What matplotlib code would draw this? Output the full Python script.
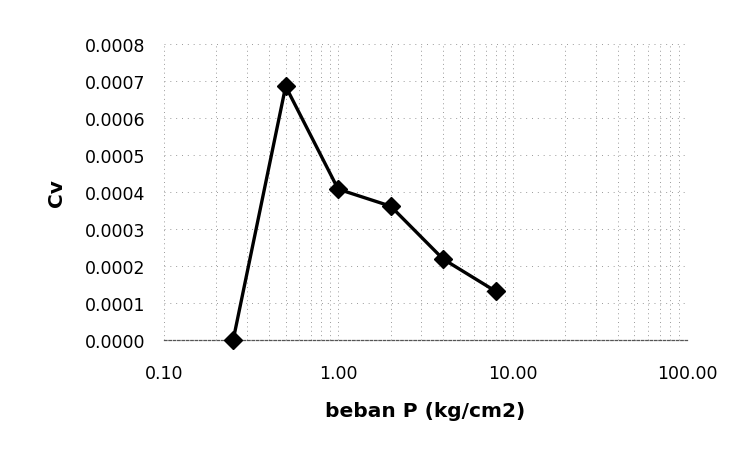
import matplotlib

matplotlib.use("Agg")
import matplotlib.pyplot as plt
from matplotlib.ticker import FixedLocator, FixedFormatter, LogLocator, NullFormatter

# consolidation test: load step vs coefficient of consolidation
beban = [0.25, 0.5, 1.0, 2.0, 4.0, 8.0]
cv = [0.0, 0.000686, 0.000408, 0.000362, 0.000219, 0.000132]

x_ticks = [0.1, 1.0, 10.0, 100.0]
x_ticklabels = ["0.10", "1.00", "10.00", "100.00"]
y_ticks = [0.0, 0.0001, 0.0002, 0.0003, 0.0004, 0.0005, 0.0006, 0.0007, 0.0008]
y_ticklabels = ["0.0000", "0.0001", "0.0002", "0.0003", "0.0004",
                "0.0005", "0.0006", "0.0007", "0.0008"]

plt.rcParams["font.family"] = ["DejaVu Sans"]

fig = plt.figure(figsize=(7.41, 4.56), dpi=100)
ax = fig.add_axes([0.221, 0.252, 0.706, 0.649])

ax.set_xscale("log")
ax.set_xlim(0.1, 100)
ax.set_ylim(0, 0.0008)

# dotted grid on major and minor log positions
ax.xaxis.set_minor_locator(LogLocator(base=10, subs=range(2, 10)))
ax.xaxis.set_minor_formatter(NullFormatter())
ax.grid(which="both", axis="x", color="#9a9a9a", linestyle=(0, (1, 3.5)), linewidth=0.7)
ax.grid(which="major", axis="y", color="#9a9a9a", linestyle=(0, (1, 5)), linewidth=0.7)

ax.plot(beban, cv, color="black", linewidth=2.4, marker="D", markersize=9,
        markerfacecolor="black", markeredgecolor="black", zorder=3, clip_on=False)

ax.xaxis.set_major_locator(FixedLocator(x_ticks))
ax.xaxis.set_major_formatter(FixedFormatter(x_ticklabels))
ax.yaxis.set_major_locator(FixedLocator(y_ticks))
ax.yaxis.set_major_formatter(FixedFormatter(y_ticklabels))
ax.tick_params(which="both", length=0)
ax.tick_params(axis="x", labelsize=12.5, pad=17)
ax.tick_params(axis="y", labelsize=12.5, pad=13)

for side in ("top", "right", "left"):
    ax.spines[side].set_visible(False)
ax.spines["bottom"].set_color("#555555")
ax.spines["bottom"].set_linestyle((0, (2, 1.5)))
ax.spines["bottom"].set_linewidth(0.9)

ax.set_xlabel("beban P (kg/cm2)", fontsize=14.5, fontweight="bold", labelpad=14)
ax.set_ylabel("Cv", fontsize=14.5, fontweight="bold", labelpad=14)

fig.savefig("out.png", dpi=100, facecolor="white")
